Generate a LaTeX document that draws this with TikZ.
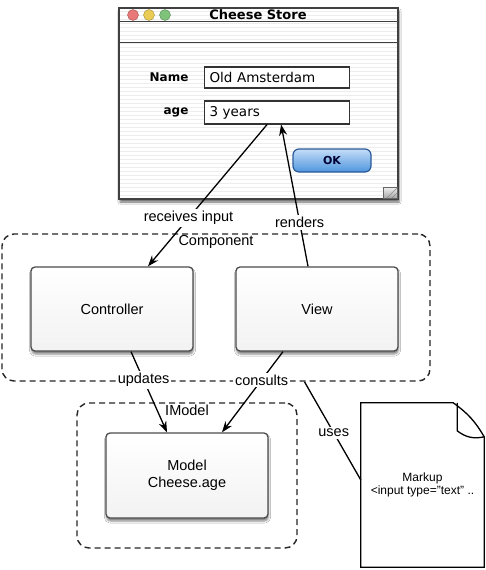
\documentclass[tikz,border=0pt]{standalone}
\usepackage{fontspec}
\setmainfont{Liberation Sans}
\newfontfamily\macfont{DejaVu Sans}
\usetikzlibrary{calc,shadows,shadows.blur,arrows.meta}
\definecolor{lightred}{HTML}{E97878}
\definecolor{lightyellow}{HTML}{EACB55}
\definecolor{lightgreen}{HTML}{7FC27A}
\definecolor{oktop}{HTML}{C4DDF7}
\definecolor{okbottom}{HTML}{4F95DE}
\definecolor{okborder}{HTML}{2A5A9A}

\begin{document}
\begin{tikzpicture}[x=1pt,y=-1pt,>={Stealth[length=11pt,width=8pt]},
    every node/.style={font=\fontsize{14.5}{17}\selectfont},
    part/.style={draw=black!70, line width=1.3pt, rounded corners=4pt,
      top color=white, bottom color=black!5, minimum width=162,
      minimum height=84, align=center,
      blur shadow={shadow xshift=0.5pt, shadow yshift=-3pt, shadow opacity=50}},
    group/.style={draw=black!85, line width=1.4pt, dash pattern=on 6pt off 4pt,
      rounded corners=12pt},
    lbl/.style={fill=white, inner sep=2pt},
    field/.style={draw=black!80, line width=1.2pt, fill=white, anchor=west,
      minimum height=21, text width=135, inner sep=5pt, align=left,
      font=\macfont\fontsize{13.5}{16}\selectfont},
    macbold/.style={font=\macfont\bfseries\fontsize{12}{14}\selectfont}]
    \useasboundingbox (0,0) rectangle (486,570);
    \fill[white] (0,0) rectangle (486,570);

    % the window
    \node (store) [draw=black!75, line width=1.4pt, fill=white, minimum width=279,
      minimum height=191, blur shadow={shadow xshift=1pt, shadow yshift=-3pt,
      shadow opacity=60}] at (258.5,103.5) {};
    \foreach \y in {11,15,...,197} {\draw[black!7] (120,\y) -- (397,\y);};
    \draw[black!75, line width=1.2pt] ([yshift=-14pt]store.north west) -- ([yshift=-14pt]store.north east)
          ([yshift=-35pt]store.north west) -- ([yshift=-35pt]store.north east);
    \node (title) [font=\macfont\bfseries\fontsize{13}{15}\selectfont] at (258,15) {Cheese Store};
    \foreach \c/\x in {lightred/133, lightyellow/149, lightgreen/165}
      {\draw[\c!70!black, fill=\c] (\x,15) circle (5.5);};
    \node (namelbl) [macbold, anchor=east] at (192,77.5) {Name};
    \node (agelbl) [macbold, anchor=east] at (192,112.5) {age};
    \node (name) [field] at (204,77.5) {Old Amsterdam};
    \node (age) [field] at (204,112.5) {3 years};
    \node (ok) [draw=okborder, line width=1.2pt, rounded corners=6pt, top color=oktop,
      bottom color=okbottom, minimum width=78, minimum height=23,
      font=\macfont\bfseries\fontsize{11}{13}\selectfont, text=black!80!blue] at (332,160.5) {OK};
    \draw[black!60, top color=black!5, bottom color=black!35] (383,187) rectangle (397,198);
    \draw[black!45] (387,198) -- (397,188) (392,198) -- (397,193);

    % component and model
    \node (component) [group, minimum width=428, minimum height=147,
      label={[anchor=north, inner sep=2pt]north:Component}] at (216,307.5) {};
    \node (controller) [part] at (112,309) {Controller};
    \node (view) [part] at (317,309) {View};
    \node (imodel) [group, minimum width=220, minimum height=145,
      label={[anchor=north, inner sep=2pt]north:IModel}] at (187,475.5) {};
    \node (model) [part, minimum height=85] at (187,475.5) {Model\\Cheese.age};

    % the markup page
    \node (markup) [minimum width=123, minimum height=164, align=center,
      font=\fontsize{12}{13}\selectfont] at (422.5,485) {Markup\\<input type="text" ..};
    \draw[line width=1.3pt] (markup.south west) -- (markup.north west)
      -- ([xshift=-31pt]markup.north east) to[bend left=12] ([yshift=-34pt]markup.north east)
      -- (markup.south east) -- cycle;
    \draw[line width=1.3pt] ([xshift=-27pt]markup.north east) -- ([xshift=-27pt,yshift=-28pt]markup.north east)
      to[bend right=25] ([yshift=-34pt]markup.north east);

    \path[line width=1.3pt]
          ([xshift=-10pt]age.south)       edge[->] node[lbl, pos=0.66] {receives input} ([xshift=36pt]controller.north)
          ([xshift=-9pt]view.north)       edge[->] node[lbl, pos=0.31] {renders}        ([xshift=4pt]age.south)
          ([xshift=19pt]controller.south) edge[->] node[lbl, pos=0.35] {updates}        ([xshift=-20pt]model.north)
          ([xshift=-34pt]view.south)      edge[->] node[lbl, pos=0.35] {consults}       ([xshift=35pt]model.north)
          (component.-40)                 edge     node[lbl, pos=0.52] {uses}           ([yshift=5pt]markup.west);
\end{tikzpicture}
\end{document}
